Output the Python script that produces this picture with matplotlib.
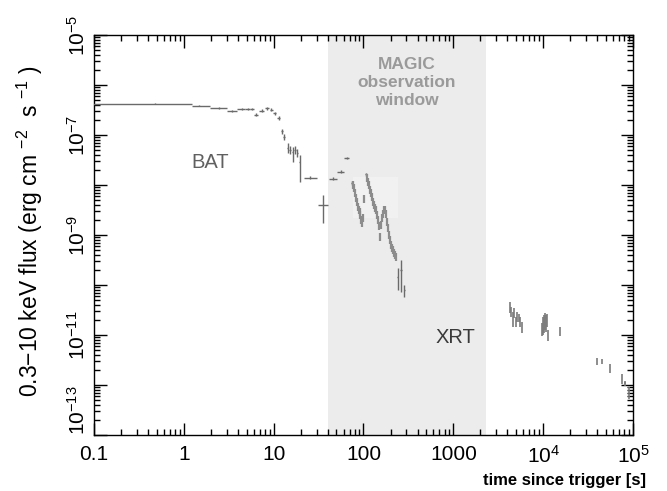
import numpy as np
import matplotlib
matplotlib.use('Agg')
import matplotlib.pyplot as plt
from matplotlib.patches import Rectangle
from matplotlib.ticker import LogLocator, FixedLocator, FixedFormatter, NullFormatter

plt.rcParams['font.family'] = ['Liberation Sans', 'DejaVu Sans']
plt.rcParams['mathtext.fontset'] = 'custom'
plt.rcParams['mathtext.rm'] = 'Liberation Sans'
plt.rcParams['mathtext.it'] = 'Liberation Sans:italic'
plt.rcParams['mathtext.bf'] = 'Liberation Sans:bold'

# BAT light curve: bin centre, bin edges [s], flux, error up/down [dex]
bat_t = [0.48, 1.48, 2.46, 3.47, 4.48, 5.14, 5.69, 6.35, 7.35, 8.35, 9.42, 10.35,
         11.46, 12.27, 13.15, 14.3, 15.2, 16.3, 17.3, 18.3, 19.6, 25.4, 35.2]
bat_tlo = [0.08, 1.22, 1.95, 3.0, 3.94, 4.80, 5.46, 5.97, 6.9, 7.95, 9.0, 9.95,
           11.0, 12.0, 12.85, 14.05, 14.95, 16.05, 17.05, 18.05, 19.3, 21.8, 31.4]
bat_thi = [1.22, 1.95, 3.0, 3.94, 4.80, 5.46, 5.97, 6.75, 7.8, 8.8, 9.85, 10.75,
           11.9, 12.6, 13.45, 14.55, 15.45, 16.55, 17.55, 18.55, 19.9, 30.1, 40.3]
bat_f = [4.17e-7, 3.8e-7, 3.47e-7, 3.0e-7, 3.36e-7, 3.36e-7, 3.36e-7, 2.55e-7,
         3.07e-7, 3.4e-7, 3.16e-7, 2.71e-7, 2.22e-7, 1.2e-7, 8.98e-8, 5.4e-8,
         5.0e-8, 4.6e-8, 4.9e-8, 4.4e-8, 2.93e-8, 1.4e-8, 3.98e-9]
bat_up = [0.01, 0.01, 0.015, 0.02, 0.02, 0.02, 0.02, 0.03, 0.03, 0.03, 0.03, 0.03,
          0.04, 0.05, 0.06, 0.1, 0.08, 0.1, 0.08, 0.08, 0.133, 0.03, 0.2]
bat_dn = [0.01, 0.01, 0.015, 0.02, 0.02, 0.02, 0.02, 0.03, 0.03, 0.03, 0.03, 0.03,
          0.04, 0.05, 0.06, 0.1, 0.08, 0.2, 0.08, 0.08, 0.4, 0.03, 0.367]

# early XRT binned points
xe_t = [45.4, 55.7, 65.0, 75.2, 105.7, 240, 262, 285]
xe_tlo = [41.7, 51.2, 60.7, 73.5, 103, 238, 255, 281]
xe_thi = [50.2, 60.7, 69.5, 77.0, 109, 242, 270, 289]
xe_f = [1.32e-8, 1.85e-8, 3.52e-8, 1.11e-8, 1.63e-8, 1.47e-10, 2.0e-10, 7.9e-11]
xe_up = [0.03, 0.03, 0.02, 0.04, 0.03, 0.167, 0.2, 0.1]
xe_dn = [0.03, 0.03, 0.02, 0.04, 0.03, 0.267, 0.433, 0.133]

# XRT windowed timing data (flaring part)
wt_t = [77.1, 79.1, 81.1, 83.2, 85.3, 86.9, 89.1, 90.6, 92.2, 93.8, 95.4, 97.9, 102.2,
        108.4, 111.2, 114.2, 117.1, 120.1, 123.2, 126.4, 129.7, 133.0, 136.7, 140.2,
        143.9, 147.6, 151.4, 155.2, 159.2, 163.3, 167.9, 172.2, 176.6, 181.1, 185.8,
        190.6, 195.4, 200.4, 206.1, 211.3, 216.8, 222.3, 228.0]
wt_f = [1.0e-8, 8.6e-9, 6.8e-9, 5.4e-9, 4.6e-9, 3.7e-9, 3.2e-9, 2.9e-9, 2.5e-9, 2.0e-9,
        1.7e-9, 2.2e-9, 5.2e-9, 1.36e-8, 1.17e-8, 1.0e-8, 7.9e-9, 6.8e-9, 5.8e-9, 4.6e-9,
        4.0e-9, 3.4e-9, 3.2e-9, 2.5e-9, 2.0e-9, 1.5e-9, 9.3e-10, 1.6e-9, 2.2e-9, 2.6e-9,
        3.1e-9, 3.2e-9, 2.6e-9, 1.85e-9, 1.36e-9, 1.0e-9, 7.9e-10, 6.3e-10, 5.4e-10,
        5.0e-10, 4.4e-10, 4.0e-10, 3.7e-10]
wt_err = 0.08

# late XRT photon counting data
pc_t = [4310, 4430, 4580, 4780, 4940, 5160, 5340, 5520, 5760, 9620, 9880, 10140,
        10400, 10670, 10940, 11220, 15270, 39400, 44800, 55500, 74800, 81500, 91000]
pc_tlo = [4310, 4430, 4580, 4780, 4940, 5160, 5340, 5520, 5760, 9620, 9880, 10140,
          10400, 10670, 10940, 11220, 15270, 39400, 44800, 55500, 74800, 79000, 91000]
pc_thi = [4310, 4430, 4580, 4780, 4940, 5160, 5340, 5520, 5760, 9620, 9880, 10140,
          10400, 10670, 10940, 11220, 15270, 39400, 44800, 55500, 74800, 84000, 91000]
pc_f = [3.69e-11, 2.9e-11, 2.3e-11, 2.7e-11, 1.85e-11, 2.3e-11, 2.15e-11, 1.85e-11,
        1.47e-11, 1.26e-11, 1.47e-11, 1.85e-11, 2.0e-11, 1.85e-11, 2.15e-11, 1.0e-11,
        1.22e-11, 2.9e-12, 2.9e-12, 2.15e-12, 1.36e-12, 1.08e-12, 7e-13]
pc_up = [0.1, 0.1, 0.1, 0.1, 0.1, 0.1, 0.08, 0.1, 0.1, 0.13, 0.2, 0.13,
         0.13, 0.13, 0.08, 0.1, 0.08, 0.07, 0.05, 0.09, 0.09, 0.05, 0.12]
pc_dn = [0.133, 0.1, 0.2, 0.1, 0.1, 0.1, 0.08, 0.1, 0.13, 0.13, 0.17, 0.23,
         0.2, 0.2, 0.17, 0.13, 0.1, 0.07, 0.05, 0.09, 0.11, 0.05, 0.12]

# MAGIC observation window [s]
magic_start, magic_stop = 40, 2330

xticks = [0.1, 1, 10, 100, 1000, 1e4, 1e5]
xticklabels = ['0.1', '1', '10', '100', '1000', r'$10^{4}$', r'$10^{5}$']
yticks = [1e-13, 1e-12, 1e-11, 1e-10, 1e-9, 1e-8, 1e-7, 1e-6, 1e-5]
yticklabels = [r'$10^{-13}$', '', r'$10^{-11}$', '', r'$10^{-9}$', '',
               r'$10^{-7}$', '', r'$10^{-5}$']


def draw(ax, t, f, tlo, thi, up, dn, color, lw=1.0):
    t = np.asarray(t, float)
    f = np.asarray(f, float)
    up = np.asarray(up, float)
    dn = np.asarray(dn, float)
    xerr = [t - np.asarray(tlo, float), np.asarray(thi, float) - t]
    yerr = [f - f * 10 ** -dn, f * 10 ** up - f]
    ax.errorbar(t, f, xerr=xerr, yerr=yerr, fmt='none', ecolor=color,
                elinewidth=lw, capsize=0, zorder=3)


fig = plt.figure(figsize=(6.67, 4.91), dpi=100)
ax = fig.add_axes([0.1409, 0.1141, 0.8081, 0.8147])
ax.set_xscale('log')
ax.set_yscale('log')
ax.set_xlim(0.1, 1e5)
ax.set_ylim(1e-13, 1e-5)

ax.axvspan(magic_start, magic_stop, color='#ececec', lw=0, zorder=0)
ax.add_patch(Rectangle((77, 2.15e-9), 240 - 77, 1.47e-8 - 2.15e-9,
                       color='#f1f1f1', lw=0, zorder=1))

draw(ax, bat_t, bat_f, bat_tlo, bat_thi, bat_up, bat_dn, '#6a6a6a')
draw(ax, xe_t, xe_f, xe_tlo, xe_thi, xe_up, xe_dn, '#6a6a6a')
draw(ax, wt_t, wt_f, wt_t, wt_t, [wt_err] * len(wt_t), [wt_err] * len(wt_t),
     '#8c8c8c', lw=1.6)
draw(ax, pc_t, pc_f, pc_tlo, pc_thi, pc_up, pc_dn, '#7a7a7a', lw=1.2)

ax.text(1.95, 2.75e-8, 'BAT', fontsize=14.5, color='#606060', ha='center', va='center')
ax.text(1045, 8.7e-12, 'XRT', fontsize=14.5, color='#3a3a3a', ha='center', va='center')
ax.text(305, 1.1e-6, 'MAGIC\nobservation\nwindow', fontsize=12.5, fontweight='bold',
        color='#9a9a9a', ha='center', va='center', linespacing=1.25)

ax.xaxis.set_major_locator(FixedLocator(xticks))
ax.xaxis.set_major_formatter(FixedFormatter(xticklabels))
ax.xaxis.set_minor_locator(LogLocator(base=10, subs=np.arange(2, 10), numticks=20))
ax.xaxis.set_minor_formatter(NullFormatter())
ax.yaxis.set_major_locator(FixedLocator(yticks))
ax.yaxis.set_major_formatter(FixedFormatter(yticklabels))
ax.yaxis.set_minor_locator(LogLocator(base=10, subs=np.arange(2, 10), numticks=20))
ax.yaxis.set_minor_formatter(NullFormatter())

ax.tick_params(which='both', direction='in', top=True, right=True, width=1.0)
ax.tick_params(which='major', length=9)
ax.tick_params(which='minor', length=4.5)
ax.tick_params(axis='x', which='major', labelsize=15, pad=7)
ax.tick_params(axis='y', which='major', labelsize=15, pad=4)
ylabs = ax.get_yticklabels()
for lab in ylabs:
    lab.set_rotation(90)
    lab.set_va('center')
# lowest label sits just above the corner so it clears the 0.1 label
ylabs[0].set_va('bottom')
for sp in ax.spines.values():
    sp.set_linewidth(1.0)

ax.set_ylabel('0.3−10 keV flux (erg cm $^{-2}$  s $^{-1}$ )', fontsize=16.5)
ax.yaxis.set_label_coords(-0.09, 0.51)
ax.set_xlabel('time since trigger [s]', fontsize=12, fontweight='bold',
              ha='right', va='center')
ax.xaxis.set_label_coords(1.024, -0.115)

fig.savefig('out.png', dpi=100)
